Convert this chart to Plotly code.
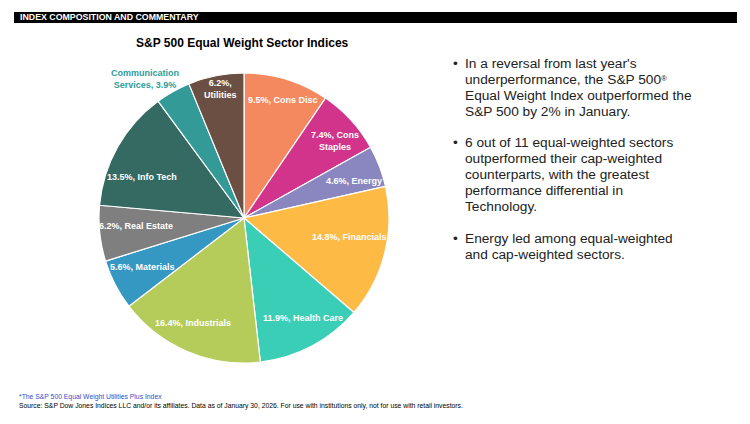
import plotly.graph_objects as go

# ---- data ----
sectors = ["Cons Disc", "Cons Staples", "Energy", "Financials", "Health Care",
           "Industrials", "Materials", "Real Estate", "Info Tech",
           "Communication Services", "Utilities"]
weights = [9.5, 7.4, 4.6, 14.8, 11.9, 16.4, 5.6, 6.2, 13.5, 3.9, 6.2]
label_texts = ["9.5%, Cons Disc", "7.4%, Cons<br>Staples", "4.6%, Energy",
               "14.8%, Financials", "11.9%, Health Care", "16.4%, Industrials",
               "5.6%, Materials", "6.2%, Real Estate", "13.5%, Info Tech",
               "Communication<br>Services, 3.9%", "6.2%,<br>Utilities"]
bullets = [
    ["In a reversal from last year's",
     "underperformance, the S&P 500<span style=\"font-size:8px;baseline-shift:40%\">®</span>",
     "Equal Weight Index outperformed the",
     "S&P 500 by 2% in January."],
    ["6 out of 11 equal-weighted sectors",
     "outperformed their cap-weighted",
     "counterparts, with the greatest",
     "performance differential in",
     "Technology."],
    ["Energy led among equal-weighted",
     "and cap-weighted sectors."],
]

# ---- styles ----
W, H = 750, 424
colors = ["#F4895F", "#D1348A", "#8A87C0", "#FDBA45", "#3BCEB7", "#B5CC5B",
          "#3498C3", "#7F7F7F", "#346A62", "#339A98", "#6A4F42"]
# label centres in pixels (x, y from top)
label_pos = [(283, 100), (335, 141), (354, 181), (349, 237), (303, 318),
             (193, 323), (142, 267), (136, 226), (142, 177), (145, 79), (220, 89)]
label_colors = ["white"] * 9 + ["#2E9C9A", "white"]
FONT = "Liberation Sans, Arial, sans-serif"
BULLET_SIZE = 13.7
LINE_GAP = 16
bullet_first_line = [63, 142, 238]

cx, cy, R = 244, 218, 145

fig = go.Figure(go.Pie(
    labels=sectors, values=weights, sort=False, direction="clockwise", rotation=0,
    marker=dict(colors=colors, line=dict(color="white", width=1.2)),
    textinfo="none", hoverinfo="label+percent", showlegend=False,
    domain=dict(x=[(cx - R) / W, (cx + R) / W], y=[(H - cy - R) / H, (H - cy + R) / H]),
))

def px(x): return x / W
def py(y): return 1 - y / H

ann = []
for t, (x, y), c in zip(label_texts, label_pos, label_colors):
    ann.append(dict(x=px(x), y=py(y), xref="paper", yref="paper", text="<b>" + t + "</b>",
                    showarrow=False, xanchor="center", yanchor="middle",
                    font=dict(family=FONT, size=9, color=c)))

# header
ann.append(dict(x=px(18), y=py(17.5), xref="paper", yref="paper",
                text="<b>INDEX COMPOSITION AND COMMENTARY</b>", showarrow=False,
                xanchor="left", yanchor="middle", font=dict(family=FONT, size=8.8, color="white")))
# title
ann.append(dict(x=px(242), y=py(43), xref="paper", yref="paper",
                text="<b>S&P 500 Equal Weight Sector Indices</b>", showarrow=False,
                xanchor="center", yanchor="middle", font=dict(family=FONT, size=12, color="black")))
# bullets
for lines, y0 in zip(bullets, bullet_first_line):
    ann.append(dict(x=px(451), y=py(y0), xref="paper", yref="paper", text="•",
                    showarrow=False, xanchor="left", yanchor="middle",
                    font=dict(family=FONT, size=BULLET_SIZE, color="#222")))
    for i, line in enumerate(lines):
        ann.append(dict(x=px(463), y=py(y0 + i * LINE_GAP), xref="paper", yref="paper",
                        text=line, showarrow=False, xanchor="left", yanchor="middle",
                        font=dict(family=FONT, size=BULLET_SIZE, color="#222")))
# footnotes
ann.append(dict(x=px(17), y=py(397), xref="paper", yref="paper",
                text="*The S&P 500 Equal Weight Utilities Plus Index", showarrow=False,
                xanchor="left", yanchor="middle", font=dict(family=FONT, size=6.8, color="#3050C8")))
ann.append(dict(x=px(17), y=py(406), xref="paper", yref="paper",
                text="Source: S&P Dow Jones Indices LLC and/or its affiliates. Data as of January 30, 2026. For use with institutions only, not for use with retail investors.",
                showarrow=False, xanchor="left", yanchor="middle",
                font=dict(family=FONT, size=6.8, color="black")))

fig.update_layout(
    width=W, height=H, margin=dict(l=0, r=0, t=0, b=0),
    paper_bgcolor="white", plot_bgcolor="white",
    annotations=ann,
    shapes=[dict(type="rect", xref="paper", yref="paper", x0=px(14), x1=px(737),
                 y0=py(23), y1=py(12), fillcolor="black", line=dict(width=0), layer="below")],
)
fig.write_html("out.html")
